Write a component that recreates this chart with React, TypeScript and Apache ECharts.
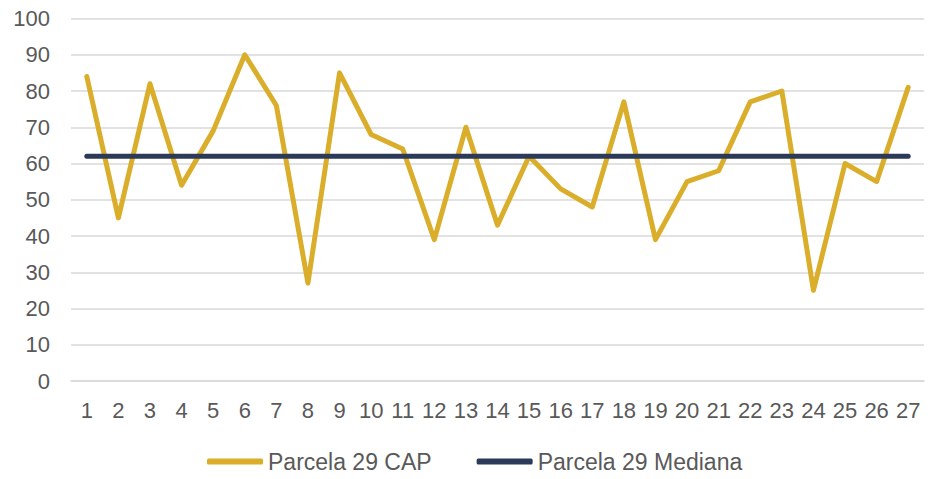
import React, { useEffect, useRef } from "react";
import * as echarts from "echarts";

const categories = ["1","2","3","4","5","6","7","8","9","10","11","12","13","14","15","16","17","18","19","20","21","22","23","24","25","26","27"];
const capValues = [84, 45, 82, 54, 69, 90, 76, 27, 85, 68, 64, 39, 70, 43, 62, 53, 48, 77, 39, 55, 58, 77, 80, 25, 60, 55, 81];
const medianValues = [62, 62, 62, 62, 62, 62, 62, 62, 62, 62, 62, 62, 62, 62, 62, 62, 62, 62, 62, 62, 62, 62, 62, 62, 62, 62, 62];
const seriesNames = ["Parcela 29 CAP", "Parcela 29 Mediana"];

export default function App() {
  const ref = useRef<HTMLDivElement>(null);
  useEffect(() => {
    document.body.style.margin = "0";
    if (!ref.current) return;
    const chart = echarts.init(ref.current, undefined, { renderer: "svg" });
    const font = "Liberation Sans, Arial, sans-serif";
    chart.setOption({
      animation: false,
      grid: { left: 71, right: 8, top: 18.5, bottom: 98 },
      legend: {
        top: 445,
        left: 202,
        icon: "roundRect",
        itemWidth: 56,
        itemHeight: 6,
        itemGap: 45,
        textStyle: { fontFamily: font, fontSize: 23, color: "#595959" },
        data: seriesNames,
      },
      xAxis: {
        type: "category",
        data: categories,
        boundaryGap: true,
        axisLine: { show: true, lineStyle: { color: "#d9d9d9", width: 1.5 } },
        axisTick: { show: false },
        axisLabel: { fontFamily: font, fontSize: 22, color: "#595959", margin: 18, interval: 0 },
      },
      yAxis: {
        type: "value",
        min: 0,
        max: 100,
        interval: 10,
        axisLine: { show: false },
        axisTick: { show: false },
        axisLabel: { fontFamily: font, fontSize: 22, color: "#595959", margin: 21 },
        splitLine: { lineStyle: { color: "#d9d9d9", width: 1.5 } },
      },
      series: [
        {
          name: seriesNames[0],
          type: "line",
          data: capValues,
          symbol: "none",
          lineStyle: { color: "#DAAE2A", width: 5, cap: "round", join: "round" },
          itemStyle: { color: "#DAAE2A" },
        },
        {
          name: seriesNames[1],
          type: "line",
          data: medianValues,
          symbol: "none",
          lineStyle: { color: "#2C3A59", width: 5, cap: "round" },
          itemStyle: { color: "#2C3A59" },
        },
      ],
    });
    return () => chart.dispose();
  }, []);
  return <div ref={ref} style={{ width: 932, height: 479 }} />;
}
